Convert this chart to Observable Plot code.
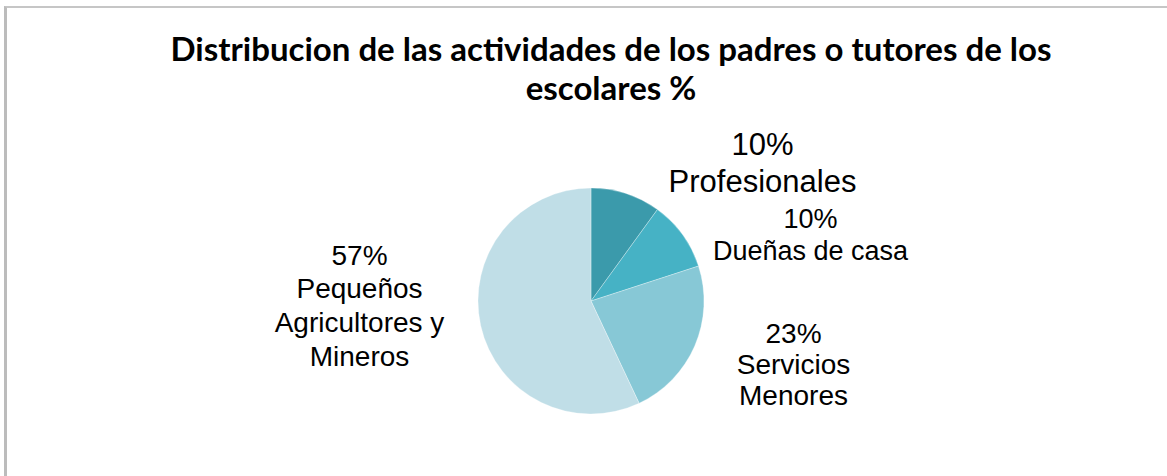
<!DOCTYPE html>
<html>
<head>
<meta charset="utf-8">
<script src="https://cdn.jsdelivr.net/npm/d3@7"></script>
<script src="https://cdn.jsdelivr.net/npm/@observablehq/plot@0.6"></script>
<style>
  html, body { margin: 0; padding: 0; background: #fff; }
  #wrap { position: relative; width: 1167px; height: 476px; overflow: hidden; background: #fff; }
  #frame { position: absolute; left: 4px; top: 6px; width: 1250px; height: 520px;
           border-top: 2px solid #c6c6c6; border-left: 3px solid #bcbcbc; box-sizing: border-box; }
  #title { position: absolute; left: 100px; width: 1022px; top: 29px; text-align: center;
           font-family: Lato, "Open Sans", sans-serif; font-weight: bold; font-size: 33px;
           line-height: 39px; color: #000; white-space: nowrap; }
  #chart { position: absolute; left: 0; top: 110px; }
</style>
</head>
<body>
<div id="wrap">
  <div id="frame"></div>
  <div id="title"></div>
  <div id="chart"></div>
</div>
<script>
// ---- data ----
const titleLines = ["Distribucion de las actividades de los padres o tutores de los", "escolares %"];
const categories = ["Profesionales", "Dueñas de casa", "Servicios Menores", "Pequeños Agricultores y Mineros"];
const values = [10, 10, 23, 57];
const colors = ["#3b9aab", "#46b2c5", "#87c8d6", "#c0dee7"];

// ---- layout (not data) ----
const labelBreaks = ["Profesionales", "Dueñas de casa", "Servicios\nMenores", "Pequeños\nAgricultores y\nMineros"];
const labelDx = [171, 219, 202, -232];
const labelDy = [-173, -96, 19, -61];
const labelSize = [31, 27, 28, 28];
const labelLH = [1.19, 1.19, 1.11, 1.21];
const W = 1167, H = 366, CX = 591, CY = 191, R = 113;

document.getElementById("title").innerHTML = titleLines.join("<br>");

const data = categories.map((c, i) => ({
  category: c, value: values[i],
  label: values[i] + "%\n" + labelBreaks[i],
  x: CX + labelDx[i], y: CY + labelDy[i], size: labelSize[i], lh: labelLH[i]
}));

const color = Plot.scale({color: {type: "ordinal", domain: categories, range: colors}});
const arcs = d3.pie().sort(null).value(d => d.value)(data);

function pieMark(index, scales) {
  const g = d3.create("svg:g");
  const cx = scales.x(CX), cy = scales.y(CY);
  const r = scales.x(CX + R) - scales.x(CX);
  const arc = d3.arc().innerRadius(0).outerRadius(r);
  g.attr("transform", `translate(${cx},${cy})`)
    .selectAll("path").data(arcs).join("path")
    .attr("d", arc)
    .attr("fill", d => color.apply(d.data.category))
    .attr("stroke", "#ffffff").attr("stroke-opacity", 0.5).attr("stroke-width", 0.6);
  return g.node();
}

const chart = Plot.plot({
  width: W, height: H,
  margin: 0,
  x: {domain: [0, W], range: [0, W], axis: null},
  y: {domain: [0, H], range: [0, H], axis: null},
  style: {background: "transparent", overflow: "visible"},
  marks: [
    Plot.dot([{x: CX, y: CY}], {x: "x", y: "y", r: 0}),
    pieMark,
    ...data.map(d => Plot.text([d], {
      x: "x", y: "y", text: "label",
      fontSize: d.size, lineHeight: d.lh, lineAnchor: "top", textAnchor: "middle",
      fontFamily: "'Liberation Sans', Arial, sans-serif", fill: "#000"
    }))
  ]
});
document.getElementById("chart").appendChild(chart);
</script>
</body>
</html>
